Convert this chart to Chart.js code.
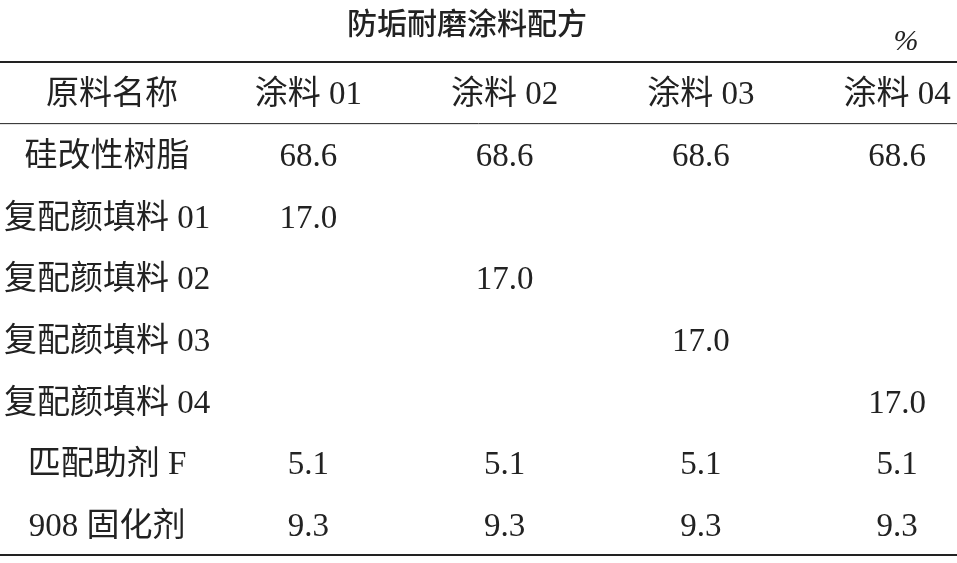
<!DOCTYPE html>
<html><head><meta charset="utf-8">
<script src="https://cdn.jsdelivr.net/npm/chart.js@4"></script>
<style>html,body{margin:0;padding:0;background:#fff}#c{display:block}</style>
</head><body>
<div style="width:957px;height:563px"><canvas id="c"></canvas></div>
<script>
const title = "防垢耐磨涂料配方";
const unit = "%";
const columns = ["原料名称", "涂料 01", "涂料 02", "涂料 03", "涂料 04"];
const rows = ["硅改性树脂", "复配颜填料 01", "复配颜填料 02", "复配颜填料 03", "复配颜填料 04", "匹配助剂 F", "908 固化剂"];
const coat01 = ["68.6", "17.0", "", "", "", "5.1", "9.3"];
const coat02 = ["68.6", "", "17.0", "", "", "5.1", "9.3"];
const coat03 = ["68.6", "", "", "17.0", "", "5.1", "9.3"];
const coat04 = ["68.6", "", "", "", "17.0", "5.1", "9.3"];
const series = [coat01, coat02, coat03, coat04];
const yLabels = ["header"].concat(rows);

const FONT = "33px 'Liberation Serif', 'Noto Sans CJK SC', serif";
const tablePlugin = {
  id: 'table',
  afterDraw(chart) {
    const ctx = chart.ctx, xs = chart.scales.x, ys = chart.scales.y, ca = chart.chartArea;
    ctx.save();
    ctx.fillStyle = '#222'; ctx.strokeStyle = '#222';
    ctx.textAlign = 'center'; ctx.textBaseline = 'middle';
    ctx.font = "500 30px 'Noto Sans CJK SC', sans-serif";
    ctx.fillText(title, 467, 23);
    ctx.font = "italic 30px 'Liberation Serif', serif";
    ctx.fillText(unit, 906, 42);
    const step = ys.getPixelForValue(1) - ys.getPixelForValue(0);
    ctx.lineWidth = 2;
    ctx.beginPath(); ctx.moveTo(0, ca.top); ctx.lineTo(957, ca.top); ctx.stroke();
    ctx.beginPath(); ctx.moveTo(0, ca.bottom); ctx.lineTo(957, ca.bottom); ctx.stroke();
    ctx.lineWidth = 1;
    const hy = ys.getPixelForValue(0) + step / 2;
    ctx.beginPath(); ctx.moveTo(0, hy); ctx.lineTo(957, hy); ctx.stroke();
    ctx.font = FONT;
    const d = 3;
    columns.forEach((c, i) => ctx.fillText(c, xs.getPixelForValue(i), ys.getPixelForValue(0) + d));
    rows.forEach((r, j) => ctx.fillText(r, xs.getPixelForValue(0) - 5, ys.getPixelForValue(j + 1) + d));
    series.forEach((s, i) => s.forEach((v, j) => {
      if (v) ctx.fillText(v, xs.getPixelForValue(i + 1), ys.getPixelForValue(j + 1) + d);
    }));
    ctx.restore();
  }
};

new Chart(document.getElementById('c'), {
  type: 'scatter',
  data: {
    datasets: series.map((s, i) => ({
      data: s.map((v, j) => v ? { x: columns[i + 1], y: rows[j] } : null).filter(Boolean),
      pointRadius: 0
    }))
  },
  options: {
    responsive: true, maintainAspectRatio: false, animation: false,
    layout: { padding: { left: 112, right: 60, top: 62, bottom: 8 } },
    plugins: { legend: { display: false }, tooltip: { enabled: false } },
    scales: {
      x: { type: 'category', labels: columns, offset: false, display: false },
      y: { type: 'category', labels: yLabels, offset: true, display: false }
    }
  },
  plugins: [tablePlugin]
});
</script>
</body></html>
